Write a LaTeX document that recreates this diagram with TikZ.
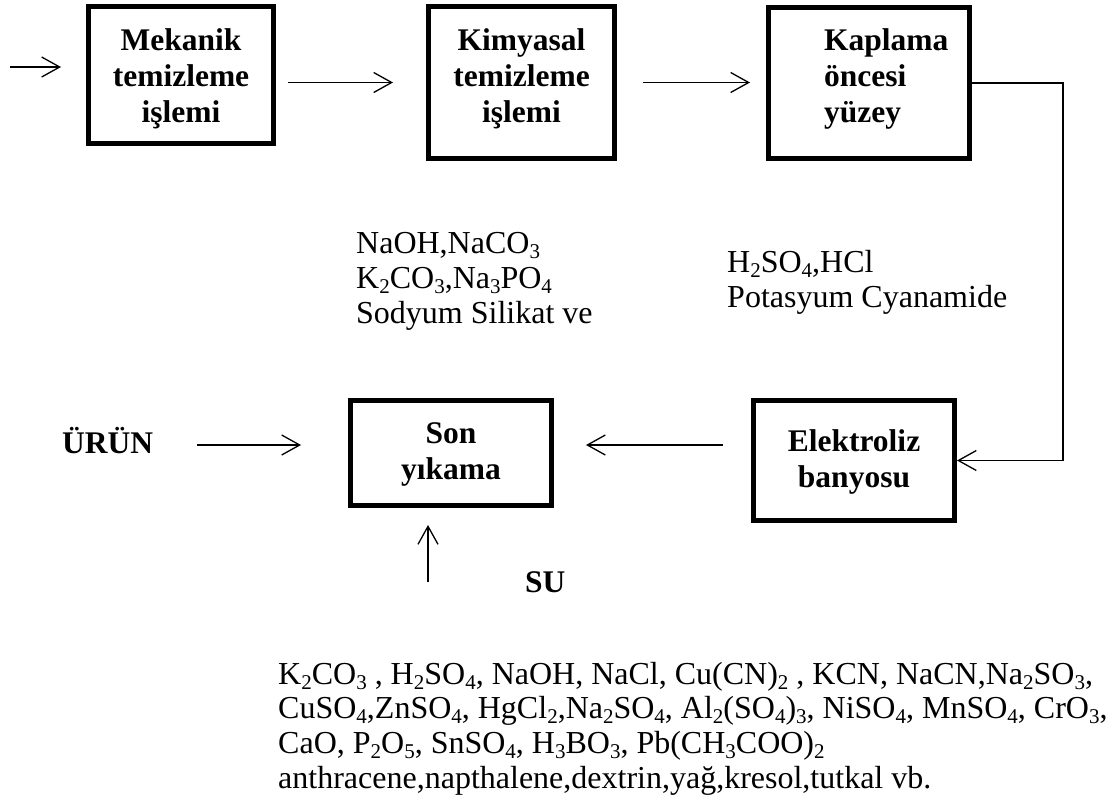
\documentclass[tikz,border=0pt]{standalone}
\usepackage{fontspec}
\setmainfont{Liberation Serif}
\usetikzlibrary{arrows.meta}
% chemical subscript: smaller digits, set below the baseline
\newcommand\chsub[1]{\raisebox{-5pt}{\fontsize{21}{21}\selectfont #1}}
\begin{document}
\begin{tikzpicture}[x=1pt,y=-1pt,
  procbox/.style={draw, line width=5pt, inner sep=0pt},
  boxlabel/.style={inner sep=0pt, anchor=base, font=\fontsize{31.5}{36}\selectfont\bfseries},
  sidelabel/.style={inner sep=0pt, anchor=base west, font=\fontsize{31.5}{36}\selectfont\bfseries},
  chemtext/.style={inner sep=0pt, anchor=base west, font=\fontsize{32}{35}\selectfont},
  flow/.style={line width=1.3pt, -{Straight Barb[length=18pt,width=20pt]}}]
\path[use as bounding box] (0,0) rectangle (1115,803);

% process boxes
\node[procbox, minimum width=185pt, minimum height=137pt] (b1) at (181,75) {};
\node[procbox, minimum width=186pt, minimum height=152pt] (b2) at (521.5,82.5) {};
\node[procbox, minimum width=201pt, minimum height=151pt] (b3) at (869,83) {};
\node[procbox, minimum width=201pt, minimum height=105pt] (son) at (451,453) {};
\node[procbox, minimum width=201pt, minimum height=120pt] (el) at (854,460.5) {};

% box captions
\node[boxlabel] (t1) at (181,50) {\begin{tabular}[t]{@{}c@{}}Mekanik\\temizleme\\işlemi\end{tabular}};
\node[boxlabel] (t2) at (521.5,50) {\begin{tabular}[t]{@{}c@{}}Kimyasal\\temizleme\\işlemi\end{tabular}};
\node[boxlabel, anchor=base west] (t3) at (824,50) {\begin{tabular}[t]{@{}l@{}}Kaplama\\öncesi\\yüzey\end{tabular}};
\node[boxlabel] (t4) at (451,443) {\begin{tabular}[t]{@{}c@{}}Son\\yıkama\end{tabular}};
\node[boxlabel] (t5) at (854,451) {\begin{tabular}[t]{@{}c@{}}Elektroliz\\banyosu\end{tabular}};

% inputs
\node[sidelabel] (urun) at (62,453) {ÜRÜN};
\node[sidelabel] (su) at (525,592) {SU};

% chemicals
\node[chemtext] (alk) at (356,253) {\begin{tabular}[t]{@{}l@{}}NaOH,NaCO\chsub{3}\\K\chsub{2}CO\chsub{3},Na\chsub{3}PO\chsub{4}\\Sodyum Silikat ve\end{tabular}};
\node[chemtext] (acid) at (727,272) {\begin{tabular}[t]{@{}l@{}}H\chsub{2}SO\chsub{4},HCl\\Potasyum Cyanamide\end{tabular}};
\node[chemtext, font=\fontsize{32}{34.7}\selectfont] (list) at (278,684) {\begin{tabular}[t]{@{}l@{}}%
K\chsub{2}CO\chsub{3} , H\chsub{2}SO\chsub{4}, NaOH, NaCl, Cu(CN)\chsub{2} , KCN, NaCN,Na\chsub{2}SO\chsub{3},\\
CuSO\chsub{4},ZnSO\chsub{4}, HgCl\chsub{2},Na\chsub{2}SO\chsub{4}, Al\chsub{2}(SO\chsub{4})\chsub{3}, NiSO\chsub{4}, MnSO\chsub{4}, CrO\chsub{3},\\
CaO, P\chsub{2}O\chsub{5}, SnSO\chsub{4}, H\chsub{3}BO\chsub{3}, Pb(CH\chsub{3}COO)\chsub{2}\\
anthracene,napthalene,dextrin,yağ,kresol,tutkal vb.\end{tabular}};

% flow arrows
\coordinate (in0) at (10,67);
\coordinate (corner) at (1063,83);
\coordinate (su0) at (428,582);
\draw[flow, shorten >=25pt] (in0) -- (in0 -| b1.west);
\draw[flow, shorten <=12pt, shorten >=33pt] (b1.east |- b2.west) -- (b2.west);
\draw[flow, shorten <=26pt, shorten >=16pt] (b2.east) -- (b2.east -| b3.west);
\draw[flow] (b3.east) -- (corner) |- (el.east);
\draw[flow, shorten <=28pt, shorten >=32pt] (el.west |- 0,445) -- (son.east |- 0,445);
\draw[flow, shorten <=44pt, shorten >=47pt] (urun.east |- 0,445) -- (son.west |- 0,445);
\draw[flow, shorten >=17pt] (su0) -- (su0 |- son.south);
\end{tikzpicture}
\end{document}
